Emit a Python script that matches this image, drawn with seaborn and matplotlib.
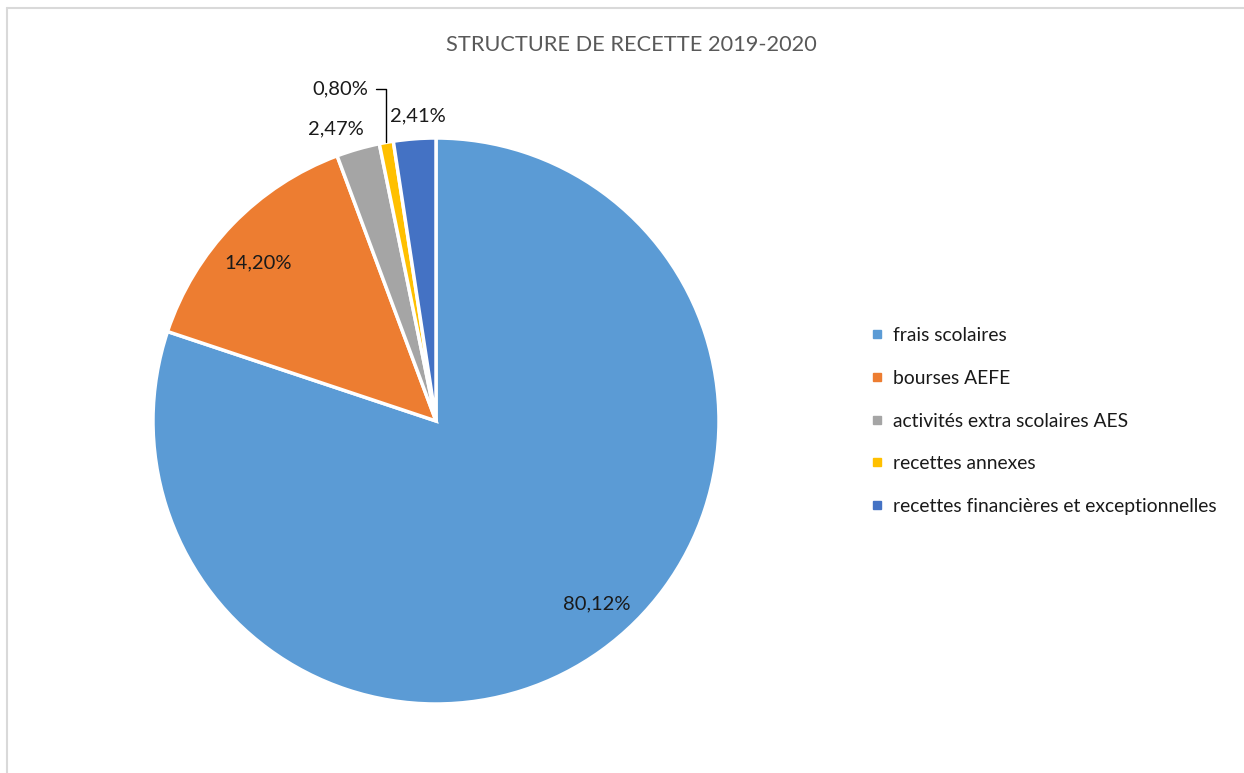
import numpy as np
import matplotlib.pyplot as plt
import seaborn as sns
from matplotlib.lines import Line2D

categories = ["frais scolaires", "bourses AEFE", "activités extra scolaires AES",
              "recettes annexes", "recettes financières et exceptionnelles"]
shares = [80.12, 14.20, 2.47, 0.80, 2.41]
colors = ["#5B9BD5", "#ED7D31", "#A5A5A5", "#FFC000", "#4472C4"]
title = "STRUCTURE DE RECETTE 2019-2020"

sns.set_style("white")
plt.rcParams["font.family"] = ["Lato", "DejaVu Sans"]

fig = plt.figure(figsize=(12.44, 7.73), dpi=100)
ax = fig.add_axes([153 / 1244, (773 - 421 - 283) / 773, 566 / 1244, 566 / 773])

wedges, _ = ax.pie(shares, colors=colors, startangle=90, counterclock=False,
                   wedgeprops=dict(edgecolor="white", linewidth=2.5))
ax.set_xlim(-1, 1)
ax.set_ylim(-1, 1)
ax.axis("off")

# label placement: (radius, angle shift in degrees) from the wedge middle
placement = [(0.86, 5.5), (0.84, 2.3), (1.09, 3.0), (1.22, 6.0), (1.08, -1.0)]
txt_color = "#1a1a1a"
fs = 14.5
for w, val, (r, dth) in zip(wedges, shares, placement):
    mid = np.deg2rad((w.theta1 + w.theta2) / 2 + dth)
    label = f"{val:.2f}%".replace(".", ",")
    x, y = r * np.cos(mid), r * np.sin(mid)
    if val < 1:
        m0 = np.deg2rad((w.theta1 + w.theta2) / 2)
        ax.annotate(label, xy=(np.cos(m0), np.sin(m0)), xytext=(x, y),
                    ha="center", va="center", fontsize=fs, color=txt_color,
                    arrowprops=dict(arrowstyle="-", color="black", lw=1,
                                    shrinkA=3, shrinkB=0,
                                    connectionstyle="angle,angleA=0,angleB=90,rad=0"))
    else:
        ax.text(x, y, label, ha="center", va="center", fontsize=fs, color=txt_color)

fig.text(631 / 1244, 1 - 45 / 773, title, ha="center", va="center",
         fontsize=15.7, color="#595959")

handles = [Line2D([], [], marker="s", linestyle="none", markersize=6,
                  markerfacecolor=c, markeredgecolor=c) for c in colors]
fig.legend(handles, categories, loc="center left",
           bbox_to_anchor=(862 / 1244, 1 - 421 / 773), frameon=False,
           fontsize=13.9, labelspacing=1.33, handlelength=0.6, handletextpad=0.5,
           borderpad=0, labelcolor=txt_color)

fig.add_artist(Line2D([7.5 / 1244, 1], [1 - 7.5 / 773] * 2, color="#D9D9D9", lw=1.5))
fig.add_artist(Line2D([7.5 / 1244] * 2, [0, 1 - 7.5 / 773], color="#D9D9D9", lw=1.5))

fig.savefig("out.png", dpi=100)
